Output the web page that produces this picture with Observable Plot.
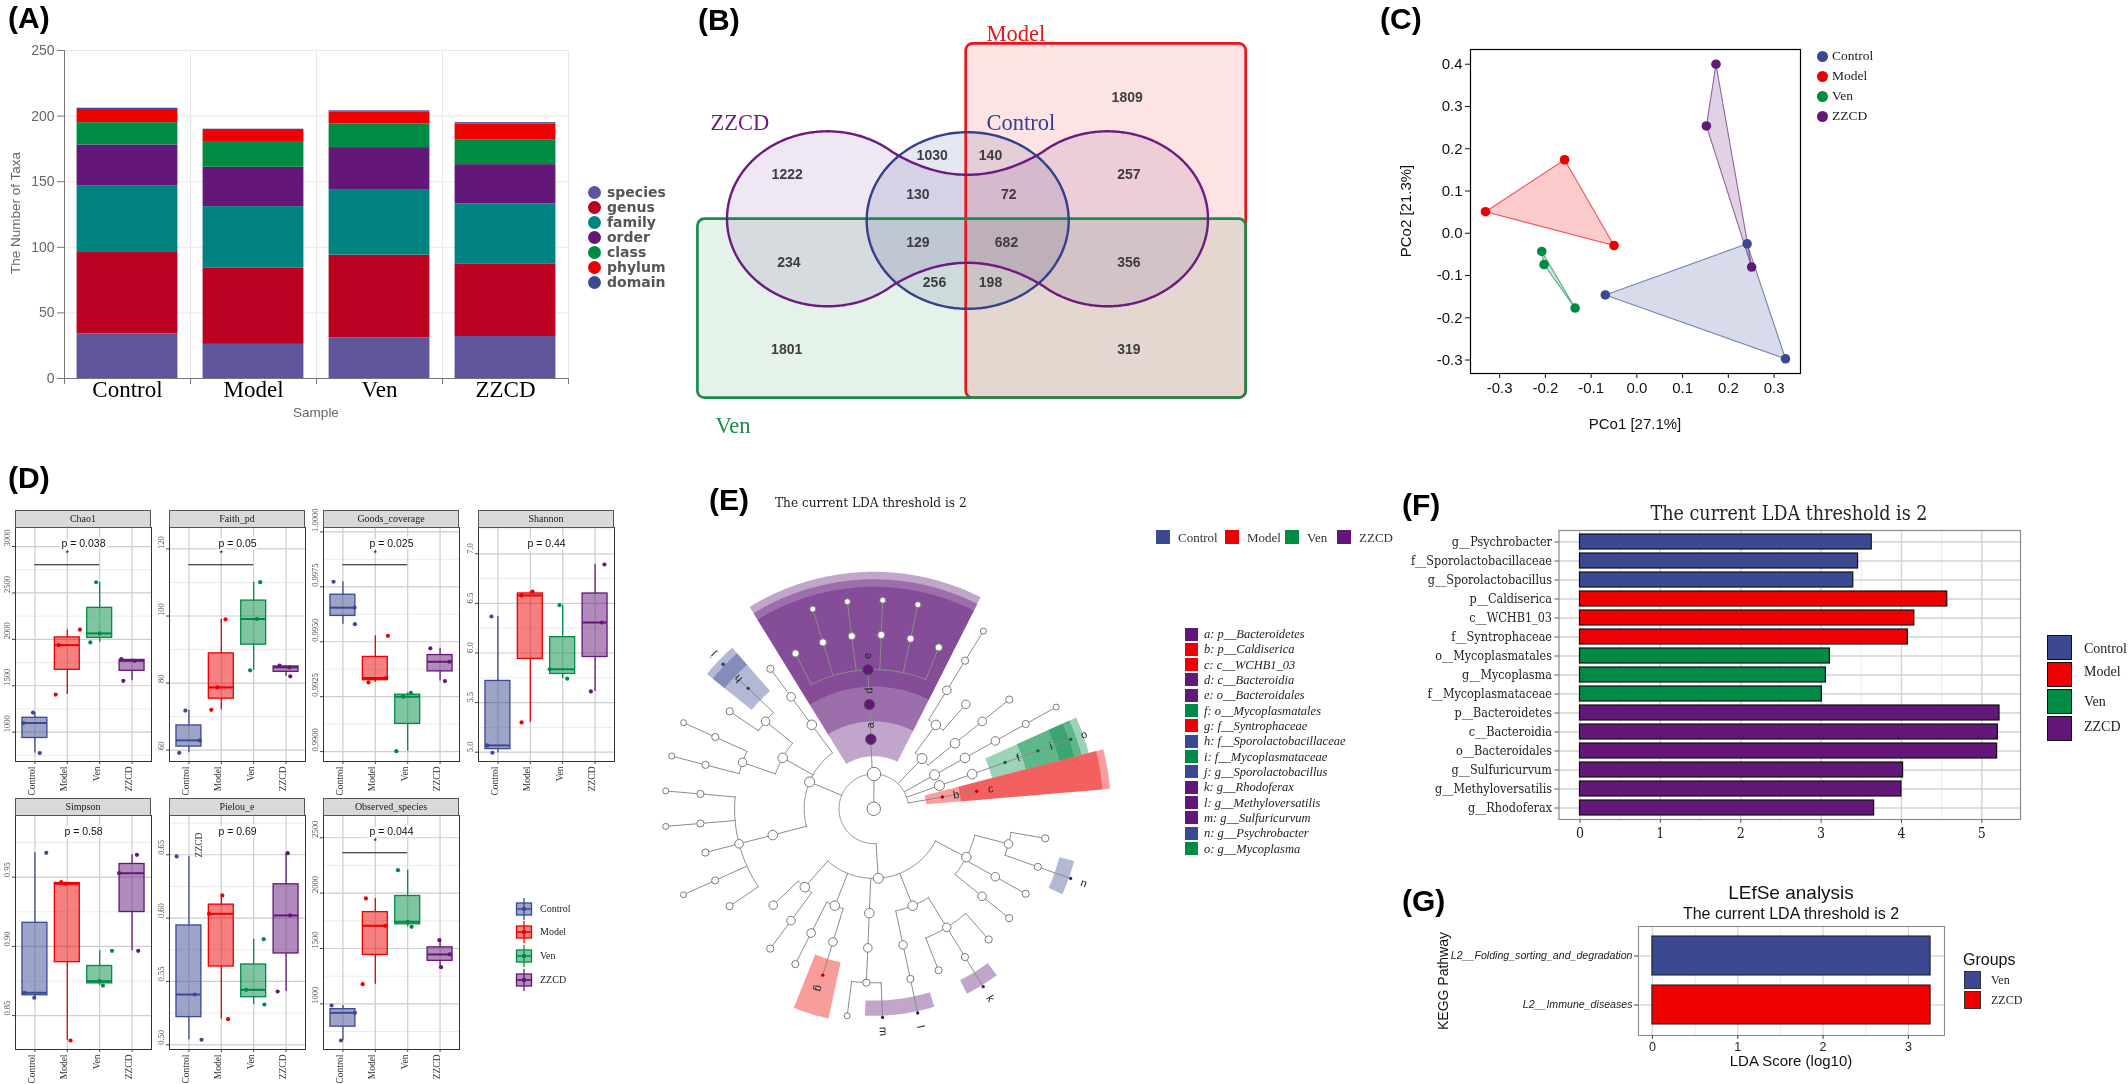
<!DOCTYPE html>
<html>
<head>
<meta charset="utf-8">
<script src="https://cdn.jsdelivr.net/npm/d3@7"></script>
<script src="https://cdn.jsdelivr.net/npm/@observablehq/plot@0.6"></script>
<style>
html,body{margin:0;padding:0;background:#fff;}
#page{position:relative;width:2128px;height:1084px;overflow:hidden;background:#fff;}
</style>
</head>
<body>
<div id="page"></div>
<script>
// ======================= DATA =======================
// Panel A – number of taxa per level
const sampleGroups = ["Control", "Model", "Ven", "ZZCD"];
const taxaLevels = ["species", "genus", "family", "order", "class", "phylum", "domain"];
const taxaSpecies = [34, 26, 31, 32];
const taxaGenus   = [62, 58, 63, 55];
const taxaFamily  = [51, 47, 50, 46];
const taxaOrder   = [31, 30, 32, 30];
const taxaClass   = [17, 19, 18, 19];
const taxaPhylum  = [10, 9, 9, 12];
const taxaDomain  = [1, 1, 1, 1];
const taxaTicks = [0, 50, 100, 150, 200, 250];

// Panel B – Venn region counts
const vennSetNames = ["ZZCD", "Control", "Model", "Ven"];
const vennCounts = [1809, 1222, 1030, 140, 257, 130, 72, 234, 129, 682, 356, 256, 198, 1801, 319];

// Panel C – PCoA
const pcoaGroup = ["Control","Control","Control","Model","Model","Model","Ven","Ven","Ven","ZZCD","ZZCD","ZZCD"];
const pco1 = [-0.069, 0.241, 0.325, -0.331, -0.158, -0.050, -0.208, -0.203, -0.135, 0.173, 0.152, 0.251];
const pco2 = [-0.146, -0.025, -0.297, 0.051, 0.174, -0.029, -0.043, -0.074, -0.177, 0.400, 0.254, -0.080];
const pcoaTicksX = [-0.3, -0.2, -0.1, 0, 0.1, 0.2, 0.3];
const pcoaTicksY = [-0.3, -0.2, -0.1, 0, 0.1, 0.2, 0.3, 0.4];

// Panel D – alpha diversity (3 samples per group, group order Control, Model, Ven, ZZCD)
const alphaGroup = ["Control","Control","Control","Model","Model","Model","Ven","Ven","Ven","ZZCD","ZZCD","ZZCD"];
const alphaMetrics = ["Chao1", "Faith_pd", "Goods_coverage", "Shannon", "Simpson", "Pielou_e", "Observed_species"];
const chao1 = [1211, 1099, 775, 2104, 1938, 1405, 2615, 2064, 1967, 1787, 1769, 1553];
const faithPd = [71.8, 62.9, 59.2, 99.0, 78.7, 72.0, 110.1, 99.1, 83.8, 85.2, 84.7, 82.0];
const goodsCoverage = [0.99773, 0.99655, 0.99580, 0.99527, 0.99335, 0.99315, 0.99268, 0.99250, 0.99002, 0.99470, 0.99409, 0.99321];
const shannon = [6.368, 5.068, 4.994, 6.620, 6.580, 5.300, 6.483, 5.836, 5.741, 6.892, 6.307, 5.612];
const simpson = [0.9676, 0.8665, 0.8629, 0.9464, 0.9452, 0.8320, 0.8968, 0.8749, 0.8717, 0.9662, 0.9529, 0.8968];
const pielouE = [0.6487, 0.5397, 0.5040, 0.6179, 0.6034, 0.5202, 0.5834, 0.5434, 0.5318, 0.6513, 0.6021, 0.5421];
const observedSpecies = [985, 919, 669, 1952, 1705, 1178, 2207, 1741, 1696, 1575, 1446, 1331];
const alphaP = ["p = 0.038", "p = 0.05", "p = 0.025", "p = 0.44", "p = 0.58", "p = 0.69", "p = 0.044"];
const alphaSignif = ["*", "*", "*", "", "", "", "*"];
const alphaTicks = [[1000,1500,2000,2500,3000],[60,80,100,120],[0.99,0.9925,0.995,0.9975,1],[5,5.5,6,6.5,7],[0.85,0.9,0.95],[0.5,0.55,0.6,0.65],[1000,1500,2000,2500]];
const alphaTickDigits = [0, 0, 4, 1, 2, 2, 0];

// Panel E – cladogram taxonomy (Newick, children in drawing order)
const cladeNewick = "(((c__WCHB1_03)p__Caldiserica," +
  "((((g__Mycoplasma)f__Mycoplasmataceae)o__Mycoplasmatales)c__Mollicutes)p__Tenericutes," +
  "(((())))," +
  "((()),(,(())))," +
  "(((,(),(),(),(),)o__Bacteroidales)c__Bacteroidia)p__Bacteroidetes," +
  "((()),(((g__Sporolactobacillus)f__Sporolactobacillaceae,)o__Bacillales,((),()))c__Bacilli,(((),(),,(),)o__Clostridiales)c__Clostridia)p__Firmicutes," +
  "((,()),((),(f__Syntrophaceae))c__Deltaproteobacteria,(((,g__Sulfuricurvum)))c__Epsilonproteobacteria," +
  "(((g__Methyloversatilis)),(,(g__Rhodoferax),))c__Betaproteobacteria,((),(),((g__Psychrobacter),))c__Gammaproteobacteria)p__Proteobacteria" +
  ")k__Bacteria)root";

// Panel F – LEfSe LDA scores
const ldaTaxa = ["g__Psychrobacter","f__Sporolactobacillaceae","g__Sporolactobacillus","p__Caldiserica","c__WCHB1_03","f__Syntrophaceae","o__Mycoplasmatales","g__Mycoplasma","f__Mycoplasmataceae","p__Bacteroidetes","c__Bacteroidia","o__Bacteroidales","g__Sulfuricurvum","g__Methyloversatilis","g__Rhodoferax"];
const ldaGroup = ["Control","Control","Control","Model","Model","Model","Ven","Ven","Ven","ZZCD","ZZCD","ZZCD","ZZCD","ZZCD","ZZCD"];
const ldaScore = [3.63, 3.46, 3.40, 4.57, 4.16, 4.08, 3.11, 3.06, 3.01, 5.22, 5.20, 5.19, 4.02, 4.00, 3.66];
const ldaLetter = ["n","h","j","b","c","g","f","o","i","a","d","e","m","l","k"];
const ldaTicks = [0, 1, 2, 3, 4, 5];

// Panel G – KEGG LEfSe
const keggPathway = ["L2__Folding_sorting_and_degradation", "L2__Immune_diseases"];
const keggGroup = ["Ven", "ZZCD"];
const keggLDA = [3.26, 3.26];
const keggTicks = [0, 1, 2, 3];

// ======================= STYLE / LAYOUT =======================
const SANS = "'Liberation Sans', Arial, Helvetica, sans-serif";
const NARROW = "'Liberation Sans Narrow', 'Arial Narrow', 'Liberation Sans', Arial, sans-serif";
const SERIF = "'Liberation Serif', 'Times New Roman', serif";
const SLAB = "'DejaVu Serif Condensed', 'DejaVu Serif', serif";
const groupColors = ["#3B4992", "#EE0000", "#008B45", "#631879"];
const taxaColors = ["#5F559B", "#BB0021", "#008280", "#631879", "#008B45", "#EE0000", "#3B4992"];
const colorOf = Object.fromEntries(sampleGroups.map((g, i) => [g, groupColors[i]]));

const page = document.getElementById("page");
function place(el, left, top) {
  el.style.position = "absolute"; el.style.left = left + "px"; el.style.top = top + "px";
  page.appendChild(el); return el;
}
function htext(str, x, y, css, anchor = "start", rotate = 0) {
  const d = document.createElement("div");
  d.textContent = str;
  d.style.cssText = "position:absolute;white-space:nowrap;line-height:1;" + css;
  d.style.left = x + "px"; d.style.top = y + "px";
  const tx = anchor === "middle" ? "-50%" : anchor === "end" ? "-100%" : "0";
  d.style.transform = `translate(${tx},-50%)` + (rotate ? ` rotate(${rotate}deg)` : "");
  page.appendChild(d); return d;
}
function hbox(x, y, w, h, css) {
  const d = document.createElement("div");
  d.style.cssText = `position:absolute;left:${x}px;top:${y}px;width:${w}px;height:${h}px;box-sizing:border-box;` + css;
  page.appendChild(d); return d;
}
function fitFont(text, family, style, target, maxSize) {
  const ctx = document.createElement("canvas").getContext("2d");
  ctx.font = `${style} ${maxSize}px ${family}`;
  const w = ctx.measureText(text).width;
  return Math.min(maxSize, maxSize * target / w);
}
const LETTER = `font-family:${SANS};font-weight:bold;font-size:30px;color:#000;`;
function expand(vals, k = 0.05) { const [a, b] = d3.extent(vals); const e = (b - a) * k; return [a - e, b + e]; }

// ======================= PANEL A =======================
{
  const counts = [taxaSpecies, taxaGenus, taxaFamily, taxaOrder, taxaClass, taxaPhylum, taxaDomain];
  const stack = [];
  sampleGroups.forEach((g, gi) => {
    let acc = 0;
    taxaLevels.forEach((lvl, li) => { const v = counts[li][gi]; stack.push({gi: gi + 1, level: lvl, y1: acc, y2: acc + v}); acc += v; });
  });
  const pxU = 250 / 328;
  const plot = Plot.plot({
    width: 580, height: 400, marginLeft: 64, marginRight: 12, marginTop: 10, marginBottom: 62,
    style: {background: "none", overflow: "visible"},
    x: {domain: [0.5, 4.5], axis: null},
    y: {domain: [0, 250], axis: null},
    color: {domain: taxaLevels, range: taxaColors},
    marks: [
      Plot.ruleY(taxaTicks.slice(1), {x1: 0.5, x2: 4.5, stroke: "#e9e9e9"}),
      Plot.ruleX([1.5, 2.5, 3.5, 4.5], {y1: 0, y2: 250, stroke: "#e9e9e9"}),
      Plot.rect(stack, {x1: d => d.gi - 0.4, x2: d => d.gi + 0.4, y1: "y1", y2: "y2", fill: "level"}),
      Plot.ruleX([0.5], {y1: 0, y2: 250, stroke: "#777"}),
      Plot.ruleY([0], {x1: 0.5, x2: 4.5, stroke: "#777"}),
      Plot.ruleX([0.5, 1.5, 2.5, 3.5, 4.5], {y1: 0, y2: -6 * pxU, stroke: "#777"}),
      Plot.ruleY(taxaTicks, {x1: 0.5 - 7 / 126, x2: 0.5, stroke: "#777"}),
      Plot.text(taxaTicks, {y: d => d, text: d => String(d), frameAnchor: "left", dx: -10, textAnchor: "end", fontSize: 14, fontFamily: SANS, fill: "#666"}),
      Plot.text(sampleGroups, {x: (d, i) => i + 1, text: d => d, frameAnchor: "bottom", dy: 18, fontSize: 23, fontFamily: SERIF, fill: "#000"})
    ]
  });
  place(plot, 0, 40);
  htext("The Number of Taxa", 16, 213, `font-family:${SANS};font-size:13.5px;color:#666;`, "middle", -90);
  htext("Sample", 316, 413, `font-family:${SANS};font-size:13.5px;color:#666;`, "middle");
  taxaLevels.forEach((lvl, i) => {
    hbox(587.5, 192 + i * 15 - 6.5, 13, 13, `border-radius:50%;background:${taxaColors[i]};`);
    htext(lvl, 607, 192 + i * 15, `font-family:'DejaVu Sans',${SANS};font-weight:bold;font-size:14px;color:#555;`);
  });
  htext("(A)", 8, 18, LETTER);
}

// ======================= PANEL B (Venn) =======================
{
  const geom = {
    ven: {x1: 697.4, x2: 1245.7, y1: 218.7, y2: 397.7},
    model: {x1: 965.7, x2: 1245.7, y1: 43.3, y2: 397.7},
    control: {cx: 967.2, cy: 220, rx: 101, ry: 88.3},
    zzcd: {cxL: 827, cxR: 1107, cy: 218.3, rx: 100.5, ry: 87.5, waist: 44, span: 75}
  };
  const labelPos = [[1126.7,96.7],[786.7,174],[931.7,155],[990,155],[1128.3,174],[917.3,194],[1008.3,194],[788.3,261.7],[917.3,242.3],[1006,242.3],[1128.3,261.7],[934,281.7],[990,281.7],[786.2,349.4],[1128.3,349]];
  const setLabelPos = {ZZCD: [710, 122], Control: [986, 122], Model: [986, 33], Ven: [715, 425]};
  const setColor = {ZZCD: "#6b1c7e", Control: "#34418a", Model: "#e8151b", Ven: "#1d8a4c"};
  const setFill = {ZZCD: "#efe7f3", Control: "#e5e7f1", Model: "#fde3e3", Ven: "#e5f2ea"};

  const c = geom.control;
  const ellipse = d3.range(0, 361, 2).map(a => ({x: c.cx + c.rx * Math.cos(a * Math.PI / 180), y: c.cy + c.ry * Math.sin(a * Math.PI / 180)}));
  const z = geom.zzcd, mid = (z.cxL + z.cxR) / 2;
  const lobe = (x, cx) => Math.abs(x - cx) < z.rx ? z.ry * Math.sqrt(1 - ((x - cx) / z.rx) ** 2) : 0;
  const kW = (lobe(mid - z.span, z.cxL) - z.waist) / (z.span * z.span);
  const hfun = x => Math.max(lobe(x, z.cxL), lobe(x, z.cxR), Math.abs(x - mid) <= z.span ? z.waist + kW * (x - mid) ** 2 : 0);
  const xL = z.cxL - z.rx, xR = z.cxR + z.rx, N = 400;
  const top = d3.range(N + 1).map(i => { const x = xL + (xR - xL) * (1 - Math.cos(Math.PI * i / N)) / 2; return {x, y: z.cy - hfun(x)}; });
  const bottom = top.slice().reverse().map(p => ({x: p.x, y: 2 * z.cy - p.y}));
  const dumbbell = top.concat(bottom);
  const labels = vennCounts.map((v, i) => ({x: labelPos[i][0], y: labelPos[i][1], text: String(v)}));
  const setLabels = vennSetNames.map(s => ({x: setLabelPos[s][0], y: setLabelPos[s][1], text: s, color: setColor[s]}));

  const plot = Plot.plot({
    width: 570, height: 440, margin: 0,
    style: {background: "none", overflow: "visible"},
    x: {domain: [690, 1260], axis: null},
    y: {domain: [440, 0], axis: null},
    marks: [
      Plot.rect([geom.ven], {x1: "x1", x2: "x2", y1: "y1", y2: "y2", rx: 7, fill: setFill.Ven, mixBlendMode: "multiply"}),
      Plot.rect([geom.model], {x1: "x1", x2: "x2", y1: "y1", y2: "y2", rx: 7, fill: setFill.Model, mixBlendMode: "multiply"}),
      Plot.line(dumbbell, {x: "x", y: "y", fill: setFill.ZZCD, stroke: "none", mixBlendMode: "multiply"}),
      Plot.line(ellipse, {x: "x", y: "y", fill: setFill.Control, stroke: "none", mixBlendMode: "multiply"}),
      Plot.rect([geom.model], {x1: "x1", x2: "x2", y1: "y1", y2: "y2", rx: 7, fill: "none", stroke: setColor.Model, strokeWidth: 2.7}),
      Plot.rect([geom.ven], {x1: "x1", x2: "x2", y1: "y1", y2: "y2", rx: 7, fill: "none", stroke: setColor.Ven, strokeWidth: 2.7}),
      Plot.line(ellipse, {x: "x", y: "y", stroke: setColor.Control, strokeWidth: 2.4}),
      Plot.line(dumbbell, {x: "x", y: "y", stroke: setColor.ZZCD, strokeWidth: 2.4}),
      Plot.text(labels, {x: "x", y: "y", text: "text", fontSize: 14, fontWeight: "bold", fontFamily: SANS, fill: "#3d3d3d"}),
      Plot.text(setLabels, {x: "x", y: "y", text: "text", fill: "color", textAnchor: "start", fontSize: 22.5, fontFamily: SERIF})
    ]
  });
  place(plot, 690, 0);
  htext("(B)", 698, 20, LETTER);
}

// ======================= PANEL C (PCoA) =======================
{
  const rows = pcoaGroup.map((g, i) => ({group: g, x: pco1[i], y: pco2[i]}));
  const plot = Plot.plot({
    width: 460, height: 440, marginLeft: 110, marginRight: 20, marginTop: 49, marginBottom: 67,
    style: {background: "none", overflow: "visible"},
    x: {domain: expand(pco1), axis: null},
    y: {domain: expand(pco2), axis: null},
    color: {domain: sampleGroups, range: groupColors},
    marks: [
      Plot.hull(rows, {x: "x", y: "y", fill: "group", fillOpacity: 0.2, stroke: "group", strokeOpacity: 0.65, strokeWidth: 1.1}),
      Plot.dot(rows, {x: "x", y: "y", fill: "group", r: 4.8}),
      Plot.frame({stroke: "#000", strokeWidth: 1.2}),
      Plot.axisX(pcoaTicksX, {tickSize: 5, tickPadding: 4, tickFormat: d => d.toFixed(1), fontSize: 15, fontFamily: NARROW, fill: "#111", stroke: "#111", label: null}),
      Plot.axisY(pcoaTicksY, {tickSize: 5, tickPadding: 3, tickFormat: d => d.toFixed(1), fontSize: 15, fontFamily: NARROW, fill: "#111", stroke: "#111", label: null})
    ]
  });
  place(plot, 1360, 0);
  htext("PCo2 [21.3%]", 1405, 211, `font-family:${SANS};font-size:15px;color:#111;`, "middle", -90);
  htext("PCo1 [27.1%]", 1635, 423, `font-family:${NARROW};font-size:15px;color:#111;`, "middle");
  sampleGroups.forEach((g, i) => {
    const y = 56 + i * 20;
    hbox(1817, y - 5.5, 11, 11, `border-radius:50%;background:${groupColors[i]};`);
    htext(g, 1832, y, `font-family:${SERIF};font-size:13.5px;color:#222;`);
  });
  htext("(C)", 1380, 19, LETTER);
}

// ======================= PANEL D (alpha diversity) =======================
{
  const alphaValues = [chao1, faithPd, goodsCoverage, shannon, simpson, pielouE, observedSpecies];
  const alphaDomains = [[684, 3205], [56.6, 126.4], [0.98955, 1.0002], [4.906, 7.265], [0.8255, 0.9946], [0.4963, 0.681], [587.7, 2701]];
  const alphaJitter = [
    [-0.06,-0.36,0.15, 0.39,-0.27,-0.36, -0.11,0,-0.29, -0.33,0.08,-0.27],
    [-0.11,0.34,-0.3, 0.13,-0.12,-0.31, 0.2,0.1,-0.11, -0.2,0.11,0.13],
    [-0.29,0.36,0.37, 0.39,0.34,-0.21, 0.1,-0.14,-0.35, -0.3,0.29,0.15],
    [-0.2,-0.33,-0.17, 0.07,-0.27,-0.27, -0.1,-0.4,0.14, 0.29,0.21,-0.13],
    [0.35,-0.32,-0.02, -0.19,-0.05,0.1, 0.38,-0.01,0.1, 0.15,-0.4,0.19],
    [-0.38,0.18,0.39, 0.03,-0.38,0.21, 0.31,-0.23,0.33, 0.05,0.13,-0.26],
    [-0.35,0.37,-0.06, -0.29,0.31,-0.39, -0.3,0,0.12, -0.02,0.3,0.03]
  ];
  const facetPos = [[15, 527], [169, 527], [323, 527], [478, 527], [15, 815], [169, 815], [323, 815]];
  const PW = 136, PH = 234;
  alphaMetrics.forEach((metric, k) => {
    const vals = alphaValues[k], dom = alphaDomains[k], ticks = alphaTicks[k], dig = alphaTickDigits[k];
    const pxU = (dom[1] - dom[0]) / PH;
    const step = ticks[1] - ticks[0];
    const minor = [ticks[0] - step / 2, ...ticks.map(t => t + step / 2)].filter(v => v > dom[0] && v < dom[1]);
    const pts = vals.map((v, i) => ({group: alphaGroup[i], v, xj: sampleGroups.indexOf(alphaGroup[i]) + 1 + alphaJitter[k][i]}));
    const stats = sampleGroups.map((g, gi) => {
      const s = vals.filter((_, i) => alphaGroup[i] === g).sort(d3.ascending);
      const q1 = d3.quantileSorted(s, 0.25), med = d3.quantileSorted(s, 0.5), q3 = d3.quantileSorted(s, 0.75);
      const iqr = q3 - q1;
      return {group: g, i: gi + 1, q1, med, q3, lo: d3.min(s.filter(v => v >= q1 - 1.5 * iqr)), hi: d3.max(s.filter(v => v <= q3 + 1.5 * iqr))};
    });
    const marks = [
      Plot.ruleY(minor, {x1: 0.4, x2: 4.6, stroke: "#ececec", strokeWidth: 1}),
      Plot.ruleY(ticks, {x1: 0.4, x2: 4.6, stroke: "#cdcdcd", strokeWidth: 1.2}),
      Plot.ruleX([1, 2, 3, 4], {y1: dom[0], y2: dom[1], stroke: "#cdcdcd", strokeWidth: 1.2}),
      Plot.ruleX(stats, {x: "i", y1: "q3", y2: "hi", stroke: "group", strokeWidth: 1.3}),
      Plot.ruleX(stats, {x: "i", y1: "lo", y2: "q1", stroke: "group", strokeWidth: 1.3}),
      Plot.rect(stats, {x1: d => d.i - 0.385, x2: d => d.i + 0.385, y1: "q1", y2: "q3", fill: "group", fillOpacity: 0.5, stroke: "group", strokeWidth: 1.3}),
      Plot.ruleY(stats, {y: "med", x1: d => d.i - 0.385, x2: d => d.i + 0.385, stroke: "group", strokeWidth: 2}),
      Plot.dot(pts, {x: "xj", y: "v", fill: "group", r: 2.1}),
      Plot.frame({stroke: "#333", strokeWidth: 1}),
      Plot.ruleY(ticks, {x1: 0.4 - 3 / 32.4, x2: 0.4, stroke: "#444"}),
      Plot.ruleX([1, 2, 3, 4], {y1: dom[0], y2: dom[0] - 3 * pxU, stroke: "#444"}),
      Plot.text(ticks, {y: d => d, text: d => d.toFixed(dig), frameAnchor: "left", dx: -8, rotate: -90, fontSize: 8.5, fontFamily: SERIF, fill: "#4d4d4d"}),
      Plot.text(sampleGroups, {x: (d, i) => i + 1, text: d => d, frameAnchor: "bottom", dy: 5, rotate: -90, textAnchor: "end", fontSize: 9.5, fontFamily: SERIF, fill: "#333"}),
      Plot.text([alphaP[k]], {x: 2.5, frameAnchor: "top", dy: 12.5, text: d => d, fontSize: 10.5, fontFamily: SANS, fill: "#111", stroke: "white", strokeWidth: 5})
    ];
    if (alphaSignif[k]) {
      marks.push(Plot.ruleY([dom[1] - 37.3 * pxU], {x1: 1, x2: 3, stroke: "#111", strokeWidth: 1.1}));
      marks.push(Plot.text([alphaSignif[k]], {x: 2, y: dom[1] - 26 * pxU, text: d => d, fontSize: 9, fontFamily: SANS, fill: "#111"}));
    }
    const plot = Plot.plot({
      width: PW + 22, height: PH + 42, marginLeft: 20, marginRight: 2, marginTop: 0, marginBottom: 42,
      style: {background: "none", overflow: "visible"},
      x: {domain: [0.4, 4.6], axis: null},
      y: {domain: dom, axis: null},
      color: {domain: sampleGroups, range: groupColors},
      marks
    });
    const [px, py] = facetPos[k];
    place(plot, px - 20, py);
    hbox(px, py - 17, PW, 17.5, `background:#d9d9d9;border:1px solid #555;`);
    htext(metric, px + PW / 2, py - 8.5, `font-family:${SERIF};font-size:10px;color:#1a1a1a;`, "middle");
  });
  // stray label visible inside the Pielou_e panel of the original
  htext("ZZCD", 200, 845, `font-family:${SERIF};font-size:9.5px;color:#333;`, "middle", -90);
  // legend
  sampleGroups.forEach((g, i) => {
    const y = [909, 932, 956, 980][i], col = groupColors[i];
    const d = document.createElement("div");
    d.style.cssText = `position:absolute;left:515px;top:${y - 11}px;width:18px;height:22px;`;
    d.innerHTML = `<svg width="18" height="22"><line x1="9" x2="9" y1="0" y2="22" stroke="${col}" stroke-width="1.3"/><rect x="1.5" y="5" width="15" height="12" fill="${col}" fill-opacity="0.5" stroke="${col}" stroke-width="1.3"/><line x1="1.5" x2="16.5" y1="11" y2="11" stroke="${col}" stroke-width="1.6"/><circle cx="9" cy="11" r="2.2" fill="${col}"/></svg>`;
    page.appendChild(d);
    htext(g, 540, y, `font-family:${SERIF};font-size:10px;color:#222;`);
  });
  htext("(D)", 8, 478, LETTER);
}

// ======================= PANEL E (cladogram) =======================
{
  function parseNewick(s) {
    let i = 0;
    function node() {
      const n = {name: "", children: []};
      if (s[i] === "(") {
        i++;
        n.children.push(node());
        while (s[i] === ",") { i++; n.children.push(node()); }
        i++;
      }
      let name = "";
      while (i < s.length && !",()".includes(s[i])) name += s[i++];
      n.name = name.trim();
      return n;
    }
    return node();
  }
  const cladeSlots = 37, cladeStart = 9.7, levelStep = 34.8;
  const slot = 360 / cladeSlots;
  const tree = parseNewick(cladeNewick);
  let leafK = 0;
  const nodes = [];
  function layout(n, depth) {
    n.depth = depth; n.r = depth * levelStep;
    if (!n.children.length) { n.angle = cladeStart + slot * leafK++; n.amin = n.amax = n.angle; }
    else {
      n.children.forEach(c => layout(c, depth + 1));
      n.angle = d3.mean(n.children, c => c.angle);
      n.amin = d3.min(n.children, c => c.amin); n.amax = d3.max(n.children, c => c.amax);
    }
    nodes.push(n);
  }
  layout(tree, 0);
  const polar = (r, deg) => ({x: r * Math.cos(deg * Math.PI / 180), y: r * Math.sin(deg * Math.PI / 180)});
  nodes.forEach(n => Object.assign(n, polar(n.r, n.angle)));
  const linkPts = []; let lid = 0;
  (function addLinks(n) {
    if (!n.children.length) return;
    const angs = n.children.map(c => c.angle);
    const a0 = d3.min(angs), a1 = d3.max(angs);
    if (n.r > 0 && a1 > a0) {
      const id = lid++, steps = Math.ceil(a1 - a0);
      for (let s = 0; s <= steps; s++) linkPts.push({id, ...polar(n.r, a0 + (a1 - a0) * s / steps)});
    }
    n.children.forEach(c => { const id = lid++; linkPts.push({id, ...polar(n.r, c.angle)}, {id, ...polar(c.r, c.angle)}); addLinks(c); });
  })(tree);

  const bio = new Map(ldaTaxa.map((t, i) => [t, {letter: ldaLetter[i], group: ldaGroup[i], lda: ldaScore[i]}]));
  const bioNodes = nodes.filter(n => bio.has(n.name)).map(n => Object.assign(n, bio.get(n.name)));
  const sizeByDepth = [6.7, 6.7, 5, 4.8, 4.3, 3.6, 3];
  const plainNodes = nodes.filter(n => !bio.has(n.name)).map(n => ({x: n.x, y: n.y, size: sizeByDepth[n.depth]}));
  const sectorMarks = bioNodes.slice().sort((a, b) => a.depth - b.depth).map(n => {
    const a1 = n.amin - slot / 2, a2 = n.amax + slot / 2;
    const R1 = n.r - 17, R2 = 237 - 7.5 * (n.depth - 2);
    const pts = [];
    const steps = Math.ceil(a2 - a1) * 2;
    for (let s = 0; s <= steps; s++) pts.push(polar(R2, a1 + (a2 - a1) * s / steps));
    for (let s = steps; s >= 0; s--) pts.push(polar(R1, a1 + (a2 - a1) * s / steps));
    return Plot.line(pts, {x: "x", y: "y", fill: colorOf[n.group], fillOpacity: 0.39, stroke: "none"});
  });
  const darker = g => d3.color(colorOf[g]).darker(0.8).formatHex();
  const plot = Plot.plot({
    width: 520, height: 524, margin: 0,
    style: {background: "none", overflow: "visible"},
    x: {domain: [-233.3, 286.7], axis: null},
    y: {domain: [-275.7, 248.3], axis: null},
    r: {type: "identity"},
    marks: [
      ...sectorMarks,
      Plot.line(linkPts, {x: "x", y: "y", z: "id", stroke: "#8c8c8c", strokeWidth: 1}),
      Plot.dot(plainNodes, {x: "x", y: "y", r: "size", fill: "white", stroke: "#7a7a7a", strokeWidth: 1}),
      Plot.dot(bioNodes, {x: "x", y: "y", r: d => d.lda > 5 ? 5.3 : 1.7, fill: d => d.lda > 5 ? colorOf[d.group] : darker(d.group), stroke: d => d.lda > 5 ? "#555" : "none", strokeWidth: 0.8}),
      Plot.text(bioNodes, {x: d => polar(d.r + 14, d.angle).x, y: d => polar(d.r + 14, d.angle).y, text: "letter", rotate: d => -d.angle, fontSize: 11, fontFamily: SANS, fill: "#222"})
    ]
  });
  place(plot, 640, 560);
  htext("(E)", 709, 500, LETTER);
  htext("The current LDA threshold is 2", 775, 503, `font-family:${SLAB};font-size:13.5px;color:#222;`);
  const topX = [1156, 1225, 1285, 1337];
  sampleGroups.forEach((g, i) => {
    hbox(topX[i], 530, 13.5, 14, `background:${groupColors[i]};`);
    htext(g, topX[i] + 22, 537, `font-family:${SERIF};font-size:13px;color:#333;`);
  });
  const order = ["a","b","c","d","e","f","g","h","i","j","k","l","m","n","o"];
  order.forEach((L, i) => {
    const idx = ldaLetter.indexOf(L);
    const y = 634 + i * 15.33;
    hbox(1185, y - 6.5, 13, 13, `background:${colorOf[ldaGroup[idx]]};`);
    htext(`${L}: ${ldaTaxa[idx]}`, 1204, y, `font-family:${SERIF};font-style:italic;font-size:12.5px;color:#222;`);
  });
}

// ======================= PANEL F (LDA bars) =======================
{
  const rows = ldaTaxa.map((t, i) => ({taxon: t, group: ldaGroup[i], lda: ldaScore[i]}));
  const xDom = [-0.05 * d3.max(ldaScore), 1.05 * d3.max(ldaScore)];
  const plot = Plot.plot({
    width: 680, height: 380, marginLeft: 178.5, marginRight: 40, marginTop: 40, marginBottom: 51,
    style: {background: "none", overflow: "visible"},
    x: {domain: xDom, axis: null},
    y: {domain: ldaTaxa, paddingInner: 0.2, paddingOuter: 0.2, axis: null},
    color: {domain: sampleGroups, range: groupColors},
    marks: [
      Plot.ruleX(d3.range(0.5, 5.5, 1), {stroke: "#ececec", strokeWidth: 1}),
      Plot.ruleX(ldaTicks, {stroke: "#d2d2d2", strokeWidth: 1.4}),
      Plot.gridY({stroke: "#d2d2d2", strokeOpacity: 1, strokeWidth: 1.4}),
      Plot.barX(rows, {y: "taxon", x: "lda", fill: "group", stroke: "#111", strokeWidth: 1.2}),
      Plot.frame({stroke: "#8a8a8a", strokeWidth: 1.2}),
      Plot.axisY({tickSize: 4, tickPadding: 3, fontSize: 12.5, fontFamily: SLAB, fill: "#222", stroke: "#555", label: null}),
      Plot.axisX(ldaTicks, {tickSize: 4, tickPadding: 5, fontSize: 14, fontFamily: SLAB, fill: "#222", stroke: "#555", label: null})
    ]
  });
  place(plot, 1380, 490);
  htext("(F)", 1402, 505, LETTER);
  htext("The current LDA threshold is 2", 1789, 514, `font-family:${SLAB};font-size:19.5px;color:#222;`, "middle");
  const legY = [647.5, 674.5, 701.5, 728.5];
  const labY = [649, 672, 702, 727];
  sampleGroups.forEach((g, i) => {
    hbox(2047, legY[i] - 12.5, 25, 25, `background:${groupColors[i]};border:1.5px solid #111;`);
    htext(g, 2084, labY[i], `font-family:${SERIF};font-size:14px;color:#222;`);
  });
}

// ======================= PANEL G (KEGG LEfSe) =======================
{
  const rows = keggPathway.map((p, i) => ({path: p, group: keggGroup[i], lda: keggLDA[i]}));
  const xDom = [-0.05 * d3.max(keggLDA), 1.05 * d3.max(keggLDA)];
  const longest = keggPathway.reduce((a, b) => (a.length >= b.length ? a : b));
  const labelSize = fitFont(longest, NARROW, "italic", 182, 13);
  const plot = Plot.plot({
    width: 600, height: 200, marginLeft: 258, marginRight: 36, marginTop: 46, marginBottom: 45,
    style: {background: "none", overflow: "visible"},
    x: {domain: xDom, axis: null},
    y: {domain: keggPathway, paddingInner: 0.2, paddingOuter: 0.2, axis: null},
    color: {domain: ["Ven", "ZZCD"], range: ["#3B4992", "#EE0000"]},
    marks: [
      Plot.ruleX([0.5, 1.5, 2.5], {stroke: "#ececec"}),
      Plot.ruleX(keggTicks, {stroke: "#d8d8d8", strokeWidth: 1.3}),
      Plot.gridY({stroke: "#d8d8d8", strokeOpacity: 1, strokeWidth: 1.3}),
      Plot.barX(rows, {y: "path", x: "lda", fill: "group", stroke: "#222", strokeWidth: 1.1}),
      Plot.frame({stroke: "#8a8a8a", strokeWidth: 1.1}),
      Plot.axisY({tickSize: 4, tickPadding: 2, fontSize: labelSize, fontStyle: "italic", fontFamily: NARROW, fill: "#222", stroke: "#444", label: null}),
      Plot.axisX(keggTicks, {tickSize: 4, tickPadding: 3, fontSize: 12.5, fontFamily: NARROW, fill: "#222", stroke: "#444", label: null})
    ]
  });
  place(plot, 1380, 880);
  htext("(G)", 1402, 901, LETTER);
  htext("LEfSe analysis", 1791, 892, `font-family:${NARROW};font-size:19px;color:#111;`, "middle");
  htext("The current LDA threshold is 2", 1791, 914, `font-family:${NARROW};font-size:16px;color:#111;`, "middle");
  htext("KEGG Pathway", 1443, 981, `font-family:${SANS};font-size:14px;color:#111;`, "middle", -90);
  htext("LDA Score (log10)", 1791, 1060, `font-family:${NARROW};font-size:15px;color:#111;`, "middle");
  htext("Groups", 1963, 960, `font-family:${NARROW};font-size:16px;color:#111;`);
  ["Ven", "ZZCD"].forEach((g, i) => {
    const y = 980 + i * 19.5;
    hbox(1964, y - 9, 17, 18, `background:${i ? "#EE0000" : "#3B4992"};border:1px solid #333;`);
    htext(g, 1991, y, `font-family:${SERIF};font-size:12px;color:#222;`);
  });
}
</script>
</body>
</html>
